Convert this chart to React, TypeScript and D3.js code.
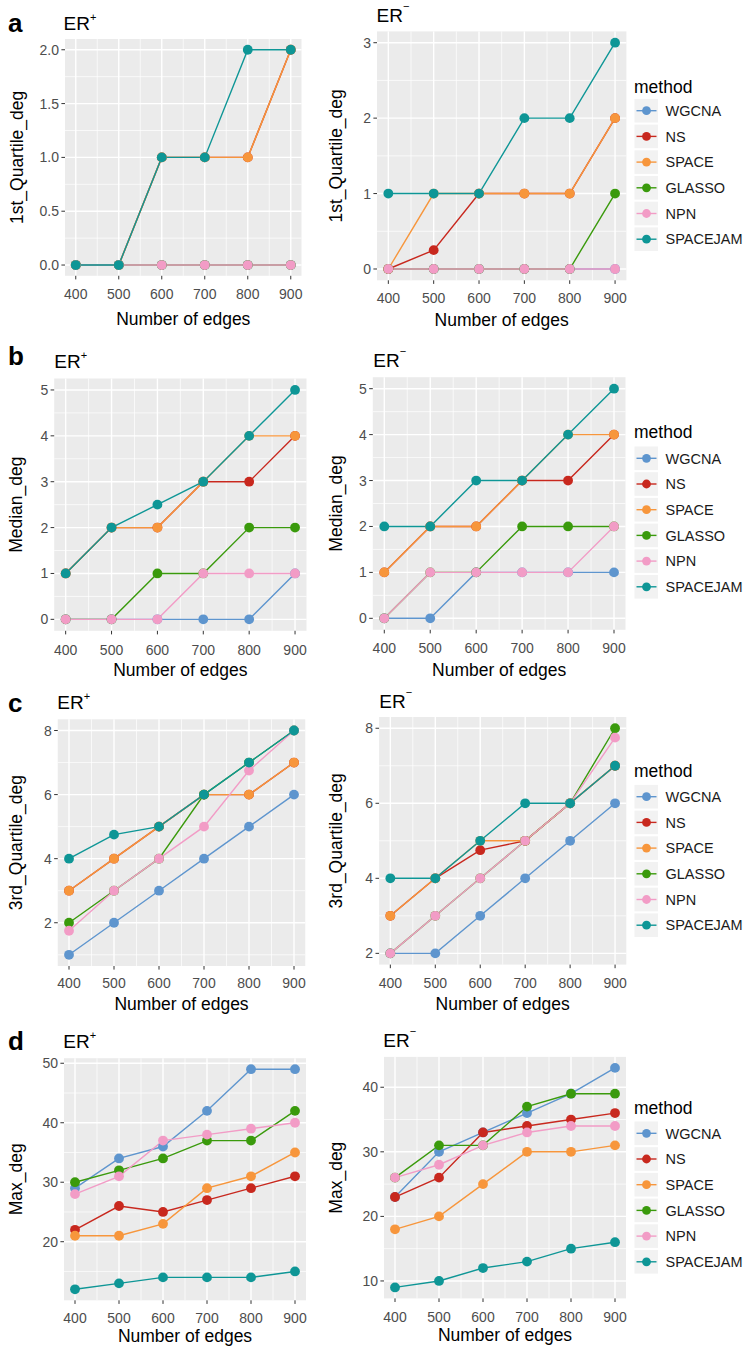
import React from "react";
import * as d3 from "d3";

const methods = ["WGCNA", "NS", "SPACE", "GLASSO", "NPN", "SPACEJAM"];
const methodColors = ["#5E95CE", "#C8281E", "#F7963C", "#3A9A0C", "#F29CC6", "#0E9696"];
const edges = [400, 500, 600, 700, 800, 900];

// rows follow the order of `methods`
const q1ErPlus = [
  [0, 0, 0, 0, 0, 0],
  [0, 0, 1, 1, 1, 2],
  [0, 0, 1, 1, 1, 2],
  [0, 0, 0, 0, 0, 0],
  [0, 0, 0, 0, 0, 0],
  [0, 0, 1, 1, 2, 2],
];
const q1ErMinus = [
  [0, 0, 0, 0, 0, 0],
  [0, 0.25, 1, 1, 1, 2],
  [0, 1, 1, 1, 1, 2],
  [0, 0, 0, 0, 0, 1],
  [0, 0, 0, 0, 0, 0],
  [1, 1, 1, 2, 2, 3],
];
const medErPlus = [
  [0, 0, 0, 0, 0, 1],
  [1, 2, 2, 3, 3, 4],
  [1, 2, 2, 3, 4, 4],
  [0, 0, 1, 1, 2, 2],
  [0, 0, 0, 1, 1, 1],
  [1, 2, 2.5, 3, 4, 5],
];
const medErMinus = [
  [0, 0, 1, 1, 1, 1],
  [1, 2, 2, 3, 3, 4],
  [1, 2, 2, 3, 4, 4],
  [0, 1, 1, 2, 2, 2],
  [0, 1, 1, 1, 1, 2],
  [2, 2, 3, 3, 4, 5],
];
const q3ErPlus = [
  [1, 2, 3, 4, 5, 6],
  [3, 4, 5, 6, 6, 7],
  [3, 4, 5, 6, 6, 7],
  [2, 3, 4, 6, 7, 8],
  [1.75, 3, 4, 5, 6.75, 8],
  [4, 4.75, 5, 6, 7, 8],
];
const q3ErMinus = [
  [2, 2, 3, 4, 5, 6],
  [3, 4, 4.75, 5, 6, 7],
  [3, 4, 5, 5, 6, 7],
  [2, 3, 4, 5, 6, 8],
  [2, 3, 4, 5, 6, 7.75],
  [4, 4, 5, 6, 6, 7],
];
const maxErPlus = [
  [29, 34, 36, 42, 49, 49],
  [22, 26, 25, 27, 29, 31],
  [21, 21, 23, 29, 31, 35],
  [30, 32, 34, 37, 37, 42],
  [28, 31, 37, 38, 39, 40],
  [12, 13, 14, 14, 14, 15],
];
const maxErMinus = [
  [23, 30, 33, 36, 39, 43],
  [23, 26, 33, 34, 35, 36],
  [18, 20, 25, 30, 30, 31],
  [26, 31, 31, 37, 39, 39],
  [26, 28, 31, 33, 34, 34],
  [9, 10, 12, 13, 15, 16],
];

const ticksQ1Plus = [0, 0.5, 1, 1.5, 2];
const ticksQ1Minus = [0, 1, 2, 3];
const ticksMed = [0, 1, 2, 3, 4, 5];
const ticksQ3 = [2, 4, 6, 8];
const ticksMaxPlus = [20, 30, 40, 50];
const ticksMaxMinus = [10, 20, 30, 40];

const yTitles = ["1st_Quartile_deg", "Median_deg", "3rd_Quartile_deg", "Max_deg"];
const rowLetters = ["a", "b", "c", "d"];

const FONT = "'Liberation Sans', Arial, Helvetica, sans-serif";

type PanelSpec = {
  data: number[][];
  ticks: number[];
  fmt: (v: number) => string;
  plus: boolean;
  row: number;
  left: number; right: number; top: number; bottom: number;
  tickBase: number; xTitleBase: number; yTitleX: number;
  titleX: number; titleBase: number;
};

const f1 = (v: number) => v.toFixed(1);
const f0 = (v: number) => String(v);

const panels: PanelSpec[] = [
  { data: q1ErPlus, ticks: ticksQ1Plus, fmt: f1, plus: true, row: 0,
    left: 65, right: 301.5, top: 39, bottom: 275.8, tickBase: 299, xTitleBase: 325, yTitleX: 17, titleX: 63.5, titleBase: 30 },
  { data: q1ErMinus, ticks: ticksQ1Minus, fmt: f0, plus: false, row: 0,
    left: 377, right: 626.4, top: 31.4, bottom: 280.3, tickBase: 303, xTitleBase: 325.5, yTitleX: 336, titleX: 376.5, titleBase: 22 },
  { data: medErPlus, ticks: ticksMed, fmt: f0, plus: true, row: 1,
    left: 54.2, right: 306.5, top: 378.5, bottom: 630.8, tickBase: 655, xTitleBase: 675.5, yTitleX: 16, titleX: 54.3, titleBase: 368 },
  { data: medErMinus, ticks: ticksMed, fmt: f0, plus: false, row: 1,
    left: 372.8, right: 625.5, top: 377.2, bottom: 629.8, tickBase: 652.7, xTitleBase: 675.5, yTitleX: 336, titleX: 373.3, titleBase: 366.5 },
  { data: q3ErPlus, ticks: ticksQ3, fmt: f0, plus: true, row: 2,
    left: 57.75, right: 305.25, top: 719.3, bottom: 966, tickBase: 988.3, xTitleBase: 1009.5, yTitleX: 16, titleX: 57.3, titleBase: 709 },
  { data: q3ErMinus, ticks: ticksQ3, fmt: f0, plus: false, row: 2,
    left: 379.1, right: 626.3, top: 717, bottom: 964.6, tickBase: 988.3, xTitleBase: 1009.5, yTitleX: 336, titleX: 379.3, titleBase: 708 },
  { data: maxErPlus, ticks: ticksMaxPlus, fmt: f0, plus: true, row: 3,
    left: 64, right: 306, top: 1058.2, bottom: 1300.3, tickBase: 1323.3, xTitleBase: 1341.5, yTitleX: 16, titleX: 63.3, titleBase: 1048 },
  { data: maxErMinus, ticks: ticksMaxMinus, fmt: f0, plus: false, row: 3,
    left: 384, right: 626, top: 1056.9, bottom: 1298.4, tickBase: 1321.7, xTitleBase: 1341, yTitleX: 336, titleX: 383.3, titleBase: 1046.5 },
];

const legendRows = [
  { titleBase: 92.7, firstKey: 110.7 },
  { titleBase: 438, firstKey: 458.3 },
  { titleBase: 777, firstKey: 796.7 },
  { titleBase: 1114, firstKey: 1133.3 },
];
const letterPos = [
  { x: 8, y: 32 },
  { x: 8, y: 365 },
  { x: 8, y: 711.5 },
  { x: 8, y: 1050 },
];

function Panel({ p }: { p: PanelSpec }) {
  const x = d3.scaleLinear().domain([375, 925]).range([p.left, p.right]);
  const all = p.data.flat();
  const [mn, mx] = d3.extent(all) as [number, number];
  const pad = (mx - mn) * 0.05;
  const y = d3.scaleLinear().domain([mn - pad, mx + pad]).range([p.bottom, p.top]);
  const [d0, d1] = y.domain();
  const step = p.ticks[1] - p.ticks[0];
  const minorY: number[] = [];
  for (let i = -1; i < p.ticks.length; i++) {
    const v = p.ticks[0] + step * (i + 0.5);
    if (v > d0 && v < d1) minorY.push(v);
  }
  const minorX = d3.range(450, 900, 100);
  const line = d3.line<number>().x((_, i) => x(edges[i])).y((v) => y(v));
  const midY = (p.top + p.bottom) / 2;
  return (
    <g>
      <rect x={p.left} y={p.top} width={p.right - p.left} height={p.bottom - p.top} fill="#EBEBEB" />
      {minorY.map((v) => (
        <line key={"my" + v} x1={p.left} x2={p.right} y1={y(v)} y2={y(v)} stroke="#fff" strokeWidth={0.7} />
      ))}
      {minorX.map((v) => (
        <line key={"mx" + v} y1={p.top} y2={p.bottom} x1={x(v)} x2={x(v)} stroke="#fff" strokeWidth={0.7} />
      ))}
      {p.ticks.map((v) => (
        <line key={"gy" + v} x1={p.left} x2={p.right} y1={y(v)} y2={y(v)} stroke="#fff" strokeWidth={1.4} />
      ))}
      {edges.map((v) => (
        <line key={"gx" + v} y1={p.top} y2={p.bottom} x1={x(v)} x2={x(v)} stroke="#fff" strokeWidth={1.4} />
      ))}
      {p.data.map((s, i) => (
        <path key={"l" + i} d={line(s) || ""} fill="none" stroke={methodColors[i]} strokeWidth={1.4} />
      ))}
      {p.data.map((s, i) =>
        s.map((v, j) => (
          <circle key={"p" + i + "-" + j} cx={x(edges[j])} cy={y(v)} r={4.9} fill={methodColors[i]} />
        ))
      )}
      {p.ticks.map((v) => (
        <g key={"ty" + v}>
          <line x1={p.left - 3.6} x2={p.left} y1={y(v)} y2={y(v)} stroke="#333" strokeWidth={1} />
          <text x={p.left - 6} y={y(v) + 5} textAnchor="end" fontSize={14} fill="#4D4D4D" fontFamily={FONT}>
            {p.fmt(v)}
          </text>
        </g>
      ))}
      {edges.map((v) => (
        <g key={"tx" + v}>
          <line x1={x(v)} x2={x(v)} y1={p.bottom} y2={p.bottom + 3.6} stroke="#333" strokeWidth={1} />
          <text x={x(v)} y={p.tickBase} textAnchor="middle" fontSize={14} fill="#4D4D4D" fontFamily={FONT}>
            {v}
          </text>
        </g>
      ))}
      <text x={(p.left + p.right) / 2} y={p.xTitleBase} textAnchor="middle" fontSize={17.5} fill="#000" fontFamily={FONT}>
        Number of edges
      </text>
      <text
        transform={`translate(${p.yTitleX + 6},${midY}) rotate(-90)`}
        textAnchor="middle"
        fontSize={17.5}
        fill="#000"
        fontFamily={FONT}
      >
        {yTitles[p.row]}
      </text>
      <text x={p.titleX} y={p.titleBase} fontSize={19} fill="#000" fontFamily={FONT}>
        ER
        <tspan fontSize={11} dy={p.plus ? -9 : -12}>{p.plus ? "+" : "\u2212"}</tspan>
      </text>
    </g>
  );
}

function Legend({ row }: { row: number }) {
  const L = legendRows[row];
  const ks = 25.7;
  return (
    <g>
      <text x={634} y={L.titleBase} fontSize={17.5} fill="#000" fontFamily={FONT}>
        method
      </text>
      {methods.map((m, i) => {
        const cy = L.firstKey + i * ks;
        return (
          <g key={m}>
            <rect x={634.5} y={cy - 11.8} width={23.5} height={23.6} fill="#F2F2F2" />
            <line x1={636.5} x2={656.5} y1={cy} y2={cy} stroke={methodColors[i]} strokeWidth={1.4} />
            <circle cx={646.5} cy={cy} r={4.4} fill={methodColors[i]} />
            <text x={665.5} y={cy + 5.2} fontSize={14.5} fill="#1a1a1a" fontFamily={FONT}>
              {m}
            </text>
          </g>
        );
      })}
    </g>
  );
}

export default function App() {
  return (
    <svg
      width={743}
      height={1348}
      style={{ position: "absolute", left: 0, top: 0, background: "#fff" }}
      xmlns="http://www.w3.org/2000/svg"
    >
      <rect x={0} y={0} width={743} height={1348} fill="#fff" />
      {panels.map((p, i) => (
        <Panel key={i} p={p} />
      ))}
      {legendRows.map((_, r) => (
        <Legend key={r} row={r} />
      ))}
      {rowLetters.map((l, i) => (
        <text key={l} x={letterPos[i].x} y={letterPos[i].y} fontSize={26} fontWeight="bold" fill="#000" fontFamily={FONT}>
          {l}
        </text>
      ))}
    </svg>
  );
}
